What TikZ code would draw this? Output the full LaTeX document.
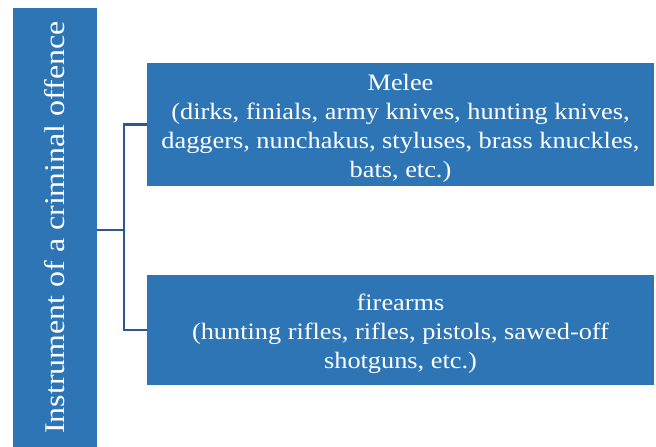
\documentclass[tikz,border=0pt]{standalone}
\usepackage{fontspec}
\setmainfont[FakeStretch=1.12]{Liberation Serif}
\usepackage[svgnames]{xcolor}
\usetikzlibrary{calc}
\definecolor{boxblue}{HTML}{2E75B6}
\definecolor{linkblue}{HTML}{2F5597}
\tikzset{
    catbox/.style args={#1}{fill=boxblue, inner sep=0pt, minimum width=507pt, minimum height=#1},
    cattext/.style={text=white, align=center, inner sep=0pt, yshift=-4pt},
    rootbox/.style={fill=boxblue, text=white, inner sep=0pt, minimum width=84pt, minimum height=439pt},
    link/.style={draw=linkblue, line width=2.2pt}
}

\begin{document}
\begin{tikzpicture}[x=1pt, y=1pt, font=\fontsize{23.5}{29}\selectfont]
\useasboundingbox (0,0) rectangle (656,447);
\node[rootbox] (root) at (55,219.5) {};
\node[rotate=90, text=white, font=\fontsize{28.5}{30}\selectfont] (rootlabel) at (root.center) {Instrument of a criminal offence};
\node[catbox=123pt] (melee) at (400.5,322.5) {};
\node[cattext] (meleetext) at (melee.center) {Melee\\(dirks, finials, army knives, hunting knives,\\daggers, nunchakus, styluses, brass knuckles,\\bats, etc.)};
\node[catbox=110pt] (fire) at (400.5,117) {};
\node[cattext] (firetext) at (fire.center) {firearms\\(hunting rifles, rifles, pistols, sawed-off\\shotguns, etc.)};
\coordinate (fork) at (124,217);
\draw[link] (root.east |- fork) -- (fork);
\draw[link] (melee.west) -| (fork) |- (fire.west);
\end{tikzpicture}
\end{document}
